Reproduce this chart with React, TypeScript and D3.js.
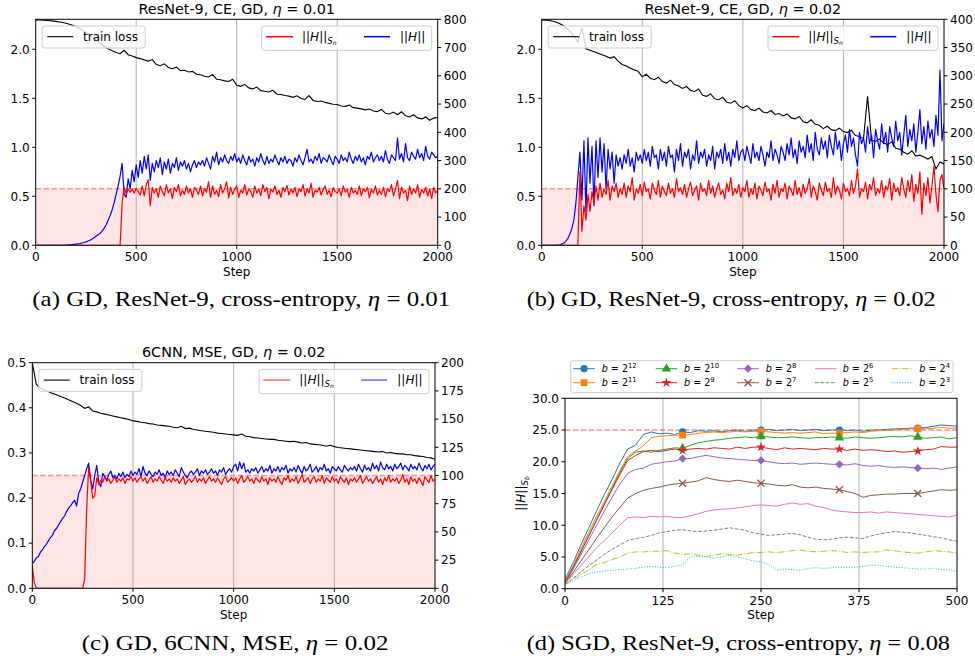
import React from "react";
import * as d3 from "d3";

const SANS = "'DejaVu Sans', sans-serif";
const SERIF = "'Liberation Serif', 'Times New Roman', serif";

// ---------------- DATA ----------------
const gdSteps = [0, 2000];
const gdXTicks = [0, 500, 1000, 1500, 2000];
const lossTicksAB = [0, 0.5, 1.0, 1.5, 2.0];
const hTicksA = [0, 100, 200, 300, 400, 500, 600, 700, 800];
const hTicksB = [0, 50, 100, 150, 200, 250, 300, 350, 400];
const lossTicksC = [0, 0.1, 0.2, 0.3, 0.4, 0.5];
const hTicksC = [0, 25, 50, 75, 100, 125, 150, 175, 200];

// Panel (a): ResNet-9, CE, GD, eta = 0.01 (loss every 20 steps, H every 10 steps)
const lossA = [
  2.300,2.299,2.297,2.294,2.290,2.285,2.279,2.271,2.261,2.248,
  2.232,2.212,2.188,2.160,2.128,2.095,2.062,2.032,2.005,1.985,
  1.968,1.955,1.990,1.945,1.932,1.915,1.905,1.892,1.880,1.895,
  1.845,1.832,1.852,1.815,1.802,1.818,1.782,1.786,1.768,1.775,
  1.745,1.740,1.725,1.718,1.742,1.695,1.690,1.678,1.672,1.695,
  1.632,1.622,1.642,1.606,1.596,1.614,1.578,1.572,1.565,1.582,
  1.542,1.538,1.528,1.522,1.510,1.525,1.498,1.488,1.528,1.478,
  1.468,1.472,1.458,1.448,1.440,1.436,1.422,1.418,1.430,1.405,
  1.400,1.392,1.382,1.390,1.370,1.364,1.386,1.348,1.340,1.360,
  1.332,1.362,1.322,1.310,1.332,1.300,1.290,1.310,1.276,1.298,
  1.305];
const hsnA = [
  0,0,0,0,0,0,0,0,0,0,
  0,0,0,0,0,0,0,0,0,0,
  0,0,0,0,0,0,0,0,0,0,
  0,0,0,0,0,0,0,0,0,0,
  0,0,0,
  150,205,180,200,188,198,185,202,190,178,
  210,175,215,232,140,205,185,200,170,210,
  190,175,215,185,200,165,205,190,215,175,
  195,180,210,185,200,170,205,195,180,210,
  175,200,188,225,170,210,180,195,172,215,
  185,200,225,168,205,180,200,210,170,195,
  185,215,178,200,190,170,210,185,198,175,
  215,190,205,165,200,188,210,180,195,170,
  205,190,212,178,198,185,205,172,200,190,
  215,175,200,185,220,170,195,188,205,178,
  198,210,180,195,172,205,190,185,200,175,
  210,188,198,170,205,185,195,180,210,175,
  200,190,205,168,198,185,210,178,195,180,
  205,172,200,190,215,175,198,230,165,205,
  185,195,158,210,180,200,185,215,170,198,
  185,205,175,200,165,205,185,195];
const hA = [
  0,0,0,0,0,0,0,0,0,0,
  0,0,0,0,0,0.5,1,1.5,2,3,
  4,5,6,8,10,12,15,18,22,27,
  32,37,42,50,60,72,88,105,125,150,
  180,210,245,290,180,170,235,200,265,225,
  285,240,300,255,315,270,320,230,290,260,
  300,275,310,250,295,270,305,255,290,275,
  310,265,295,280,300,270,290,260,285,300,
  275,295,285,300,280,310,290,270,315,295,
  330,285,310,295,320,300,290,315,300,325,
  295,310,290,320,300,285,315,295,305,280,
  310,295,325,300,285,315,290,305,295,320,
  300,285,310,295,315,290,305,300,280,310,
  295,320,300,285,310,340,295,305,290,315,
  300,325,290,310,305,295,320,300,285,315,
  305,290,320,300,310,295,330,305,290,315,
  300,320,295,310,285,315,305,330,295,310,
  320,300,315,295,335,305,290,320,310,300,
  380,305,325,295,360,310,300,330,315,305,
  340,310,325,300,350,315,305,330,320,310,
  315];

// Panel (b): ResNet-9, CE, GD, eta = 0.02
const lossB = [
  2.300,2.298,2.293,2.284,2.270,2.250,2.222,2.185,2.135,2.075,
  2.220,2.005,1.990,1.975,1.960,1.945,1.930,1.910,1.925,1.880,
  1.845,1.830,1.810,1.790,1.775,1.720,1.745,1.705,1.690,1.715,
  1.670,1.655,1.685,1.640,1.625,1.600,1.620,1.580,1.570,1.595,
  1.530,1.520,1.545,1.495,1.485,1.510,1.460,1.450,1.475,1.425,
  1.400,1.425,1.385,1.375,1.400,1.360,1.350,1.375,1.335,1.345,
  1.320,1.340,1.300,1.290,1.315,1.260,1.250,1.280,1.235,1.225,
  1.190,1.215,1.180,1.170,1.195,1.160,1.150,1.175,1.120,1.110,
  1.090,1.520,1.070,1.060,1.085,1.040,1.030,1.055,0.990,0.980,
  0.950,0.930,0.965,0.910,0.920,0.900,0.880,0.905,0.780,0.850,
  0.830];
const hsnB = [
  0,0,0,0,0,0,0,0,0,0,
  0,0,0,0,0,0,0,0,0,130,
  25,70,45,90,60,95,75,105,80,110,
  85,100,90,115,80,105,95,110,85,100,
  90,110,85,105,95,120,80,100,92,108,
  88,112,95,100,82,110,98,90,115,85,
  105,95,88,110,92,100,85,118,95,102,
  90,108,85,100,112,88,98,105,80,110,
  95,100,88,115,92,105,85,100,110,90,
  98,82,110,95,120,88,100,92,108,85,
  102,95,115,85,100,90,110,82,105,98,
  88,112,95,100,80,108,92,115,85,100,
  95,110,82,105,98,88,115,90,102,85,
  108,92,100,118,85,105,95,80,110,98,
  88,112,95,100,85,120,90,105,98,82,
  110,95,100,88,115,92,105,135,85,100,
  95,112,82,108,98,120,88,100,92,115,
  85,105,98,118,80,110,95,102,88,120,
  100,85,115,95,125,78,108,92,130,55,
  110,88,120,75,105,140,90,60,115,125,
  100];
const hB = [
  0,0,0,0,0,0,0,0,0.5,1,
  2,4,7,12,20,30,45,75,120,165,
  80,185,60,190,110,175,70,185,120,190,
  130,180,100,170,135,165,110,160,140,155,
  135,160,145,170,140,155,130,165,150,160,
  145,170,150,165,140,175,155,160,135,170,
  150,165,140,175,155,160,130,170,150,180,
  140,165,155,170,135,160,150,185,145,165,
  155,170,140,160,150,175,135,165,155,170,
  145,180,150,165,140,170,155,185,150,165,
  170,150,175,160,145,180,155,165,150,175,
  160,140,165,155,185,150,170,160,145,175,
  165,150,180,160,190,155,170,145,185,165,
  175,155,195,165,180,150,200,170,160,190,
  170,185,155,195,175,160,200,170,185,150,
  180,195,165,205,175,190,160,140,200,180,
  190,165,210,180,195,155,205,185,170,215,
  180,200,165,210,190,175,220,185,200,160,
  195,230,175,205,185,215,165,200,240,180,
  210,170,220,190,205,175,230,195,310,185,
  215];

// Panel (c): 6CNN, MSE, GD, eta = 0.02
const lossC = [
  0.500,0.452,0.444,0.440,0.436,0.432,0.429,0.425,0.422,0.418,
  0.414,0.410,0.405,0.399,0.402,0.393,0.391,0.388,0.386,0.384,
  0.382,0.380,0.378,0.376,0.374,0.371,0.370,0.368,0.367,0.365,
  0.364,0.362,0.361,0.360,0.359,0.357,0.356,0.359,0.354,0.355,
  0.352,0.351,0.349,0.348,0.347,0.346,0.344,0.343,0.342,0.341,
  0.340,0.339,0.342,0.337,0.336,0.334,0.333,0.332,0.331,0.330,
  0.330,0.328,0.327,0.326,0.325,0.326,0.324,0.322,0.323,0.320,
  0.319,0.318,0.317,0.315,0.317,0.314,0.312,0.311,0.310,0.309,
  0.308,0.307,0.306,0.305,0.304,0.303,0.302,0.303,0.300,0.301,
  0.299,0.298,0.298,0.296,0.296,0.294,0.293,0.292,0.290,0.289,
  0.286];
const hsnC = [
  20,5,0,0,0,0,0,0,0,0,
  0,0,0,0,0,0,0,0,0,0,
  0,0,0,0,0,0,8,70,108,95,
  80,82,98,92,96,94,99,95,97,93,
  96,99,94,97,95,98,93,97,96,99,
  95,98,94,97,99,95,98,93,96,99,
  94,97,95,99,96,93,98,95,97,94,
  98,95,97,93,96,99,92,95,97,94,
  96,99,94,97,95,98,93,96,99,95,
  97,94,98,95,92,97,99,94,96,98,
  95,98,93,97,100,94,96,99,95,97,
  93,98,96,94,99,95,97,92,98,95,
  97,94,99,95,92,98,96,100,94,97,
  95,99,93,97,101,94,96,98,93,97,
  99,94,97,95,100,93,98,96,94,99,
  95,97,93,99,96,94,98,92,97,95,
  98,94,97,100,93,96,99,95,97,93,
  96,99,94,97,92,98,95,100,94,97,
  95,98,93,96,101,94,97,92,99,95,
  97,93,98,95,91,99,96,94,100,95,
  97];
const hC = [
  22,24,27,28,32,34,37,39,42,45,
  47,51,53,56,59,62,64,68,71,73,
  76,78,73,84,88,94,100,106,111,96,
  88,100,109,94,90,102,99,96,101,104,
  98,100,97,102,99,103,98,101,99,104,
  100,103,101,106,99,108,102,100,104,101,
  99,103,101,105,100,102,98,104,101,103,
  100,105,102,99,107,103,100,98,102,104,
  101,103,106,100,104,102,105,101,103,106,
  102,104,100,105,103,107,101,104,106,103,
  108,110,104,112,106,111,103,105,102,106,
  104,107,102,105,108,103,106,104,109,102,
  106,104,108,103,107,105,109,102,106,104,
  107,103,109,105,102,108,104,106,110,103,
  105,108,103,107,105,110,104,106,102,108,
  106,104,108,105,103,109,106,104,107,105,
  108,104,110,106,103,109,105,107,104,111,
  106,109,104,112,107,105,110,106,108,104,
  110,106,108,111,105,109,107,104,110,106,
  108,105,111,107,104,109,106,110,105,108,
  110];

// Panel (d): SGD, ResNet-9, CE, eta = 0.08 (every 10 steps, 0..500)
const sgdSteps = [0, 500];
const sgdXTicks = [0, 125, 250, 375, 500];
const sgdYTicks = [0, 5, 10, 15, 20, 25, 30];
const batchExps = [12, 11, 10, 9, 8, 7, 6, 5, 4, 3];
const sgdMarkSteps = [150, 250, 350, 450];
const sgdThreshold = 25;
const sgdB12 = [1.5,4,6.8,9.5,12.2,14.8,17.2,19.8,22.0,22.6,24.3,24.7,24.4,24.5,24.3,24.7,24.6,24.9,24.8,24.9,24.7,24.9,25.0,24.8,25.0,25.0,25.1,24.9,25.0,25.1,24.9,25.0,25.1,24.9,25.0,25.0,24.9,25.0,24.8,25.0,25.0,25.1,25.2,25.2,25.3,25.3,25.4,25.6,25.8,25.7,25.6];
const sgdB11 = [1.2,3.5,6.2,8.8,11.3,13.7,16.2,18.6,20.8,21.7,22.5,23.8,24.0,24.1,24.2,24.2,24.3,24.5,24.6,24.7,24.6,24.7,24.8,24.7,24.8,24.8,24.7,24.6,24.5,24.6,24.5,24.6,24.7,24.4,24.5,24.5,24.6,24.7,24.6,24.8,24.9,24.9,25.0,25.1,25.2,25.2,25.2,25.3,25.4,25.3,25.3];
const sgdB10 = [1.0,3.3,5.8,8.3,10.8,13.3,15.8,18.3,20.5,21.5,21.7,21.5,21.8,22.0,22.2,22.1,22.6,23.0,23.2,23.4,23.5,23.7,23.8,23.9,23.8,24.0,23.9,23.8,23.8,23.9,23.8,23.7,23.8,23.8,23.9,23.8,23.7,23.9,23.8,23.7,23.8,23.9,24.0,23.9,24.1,23.9,23.7,23.8,23.9,23.6,23.8];
const sgdB9 = [0.9,3.2,5.7,8.2,10.7,13.2,15.6,18.0,20.2,21.0,21.6,21.8,21.6,21.8,22.0,21.8,22.0,22.1,22.0,22.2,22.1,22.0,22.3,22.1,22.3,22.3,22.1,21.9,22.2,22.0,22.1,22.0,21.9,22.1,22.0,22.0,21.8,22.0,21.8,21.9,21.8,21.6,21.7,21.5,21.6,21.7,21.9,22.0,22.4,22.3,22.3];
const sgdB8 = [0.8,3.0,5.3,7.6,9.9,12.2,14.4,16.5,18.2,18.8,19.0,19.6,19.8,20.0,20.1,20.5,20.5,20.8,21.0,20.8,20.6,20.5,20.4,20.3,20.2,20.2,20.0,19.8,19.7,19.8,19.6,19.7,19.8,19.7,19.6,19.6,19.5,19.7,19.4,19.3,19.4,19.2,19.1,19.2,19.1,19.0,18.9,19.0,18.8,19.0,19.2];
const sgdB7 = [0.8,2.5,4.3,6.1,7.9,9.6,11.3,12.8,14.3,15.0,15.5,15.8,16.0,16.3,16.5,16.6,16.8,17.0,17.5,17.2,17.0,16.9,17.1,16.9,16.7,16.6,16.5,16.3,16.2,16.4,16.0,15.9,16.0,15.8,15.7,15.6,15.3,15.0,14.4,14.7,14.8,14.9,14.9,15.0,15.0,15.0,15.2,15.4,15.6,15.5,15.6];
const sgdB6 = [0.8,2.2,3.6,5.0,6.4,7.6,8.8,10.0,11.2,11.3,11.2,11.4,11.3,11.4,11.2,11.2,11.5,11.8,12.2,12.4,12.5,12.6,12.7,12.9,13.1,13.2,13.1,13.0,13.3,13.5,13.3,13.4,13.0,12.8,12.4,12.2,12.1,12.0,12.0,12.1,11.9,12.1,12.0,11.9,11.8,11.7,11.6,11.5,11.4,11.3,11.6];
const sgdB5 = [0.7,1.6,2.6,3.6,4.5,5.4,6.2,6.9,7.6,7.9,8.1,8.4,8.8,9.0,9.2,9.3,9.1,9.0,9.1,9.2,9.4,9.6,9.4,9.2,8.8,8.6,8.4,8.5,8.6,8.7,8.5,8.1,7.8,7.7,7.8,8.0,8.1,8.0,7.9,8.3,8.6,8.8,9.0,8.9,8.8,8.6,8.4,8.2,8.0,7.7,7.5];
const sgdB4 = [0.7,1.4,2.2,3.0,3.8,4.1,4.6,5.0,5.6,5.8,5.8,5.9,5.9,6.0,5.6,5.4,5.5,5.3,5.1,5.3,5.5,5.4,5.3,5.5,5.7,5.7,5.8,5.7,5.8,6.0,6.1,5.9,5.8,5.9,6.0,5.9,5.7,5.8,5.7,5.8,5.8,6.1,6.0,5.8,5.7,5.6,5.8,6.0,5.9,5.8,5.6];
const sgdB3 = [0.6,1.2,1.8,2.3,2.6,2.8,2.9,3.0,3.1,3.2,3.4,3.5,3.4,3.3,3.5,3.8,5.0,5.1,5.0,4.8,5.0,5.3,5.0,4.7,4.4,4.2,3.8,2.9,3.1,3.0,2.9,3.2,3.3,3.2,3.3,3.4,3.3,3.4,3.5,3.7,3.7,3.5,3.4,3.3,3.2,3.1,3.1,3.2,3.0,3.0,2.7];
const sgdSeries = [sgdB12, sgdB11, sgdB10, sgdB9, sgdB8, sgdB7, sgdB6, sgdB5, sgdB4, sgdB3];

// ---------------- STYLES ----------------
const tab10 = ["#1f77b4", "#ff7f0e", "#2ca02c", "#d62728", "#9467bd", "#8c564b", "#e377c2", "#7f7f7f", "#bcbd22", "#17becf"];
const sgdDash = ["", "", "", "", "", "", "", "3.7,1.6", "6.4,1.6,1,1.6", "1,1.65"];
const sgdMarker = ["circle", "square", "triangle", "star", "diamond", "x", "", "", "", ""];

const fmt1 = d3.format(".1f");

function Marker({ kind, x, y, color }: { kind: string; x: number; y: number; color: string }) {
  if (!kind) return null;
  if (kind === "circle") return <circle cx={x} cy={y} r={3.6} fill={color} />;
  if (kind === "square") return <path d={d3.symbol(d3.symbolSquare, 46)() as string} transform={`translate(${x},${y})`} fill={color} />;
  if (kind === "triangle") return <path d={d3.symbol(d3.symbolTriangle, 40)() as string} transform={`translate(${x},${y})`} fill={color} />;
  if (kind === "star") return <path d={d3.symbol(d3.symbolStar, 30)() as string} transform={`translate(${x},${y})`} fill={color} />;
  if (kind === "diamond") return <path d={d3.symbol(d3.symbolSquare, 34)() as string} transform={`translate(${x},${y}) rotate(45)`} fill={color} />;
  if (kind === "x") return <path d={d3.symbol(d3.symbolTimes, 34)() as string} transform={`translate(${x},${y})`} fill="none" stroke={color} strokeWidth={1.3} />;
  return null;
}

function HNormText({ x, y, sub, size = 12, anchor = "start", transform }: any) {
  return (
    <text x={x} y={y} fontSize={size} fontFamily={SANS} textAnchor={anchor} transform={transform}>
      {"||"}
      <tspan fontStyle="italic">H</tspan>
      {"||"}
      {sub ? (
        <>
          <tspan fontStyle="italic" fontSize={size * 0.72} dy={size * 0.22}>S</tspan>
          <tspan fontStyle="italic" fontSize={size * 0.5} dy={size * 0.12}>{sub}</tspan>
        </>
      ) : null}
    </text>
  );
}

type GDProps = {
  id: string;
  left: number; right: number; top: number; bottom: number;
  title: string; eta: string;
  lossMax: number; lossTicks: number[];
  hMax: number; hTicks: number[];
  loss: number[]; hsn: number[]; h: number[];
  threshold: number; lightLegend?: boolean;
};

function GDPanel(p: GDProps) {
  const x = d3.scaleLinear().domain(gdSteps).range([p.left, p.right]);
  const yL = d3.scaleLinear().domain([0, p.lossMax]).range([p.bottom, p.top]);
  const yR = d3.scaleLinear().domain([0, p.hMax]).range([p.bottom, p.top]);
  const path = (arr: number[], y: d3.ScaleLinear<number, number>) =>
    d3.line<number>()
      .x((_, i) => x(gdSteps[0] + (i * (gdSteps[1] - gdSteps[0])) / (arr.length - 1)))
      .y((d) => y(d))(arr) as string;
  const cx = (p.left + p.right) / 2;
  const legRed = p.lightLegend ? "#ff6a6a" : "#ff0000";
  const legBlue = p.lightLegend ? "#6a6aff" : "#0000ff";
  const ly = p.top + 17.4;
  return (
    <g>
      <defs>
        <clipPath id={`clip-${p.id}`}>
          <rect x={p.left} y={p.top} width={p.right - p.left} height={p.bottom - p.top} />
        </clipPath>
      </defs>
      <g clipPath={`url(#clip-${p.id})`}>
        <rect x={x(gdSteps[0])} y={yR(p.threshold)} width={x(gdSteps[1]) - x(gdSteps[0])} height={yR(0) - yR(p.threshold)} fill="#ff0000" fillOpacity={0.1} />
        <line x1={x(gdSteps[0])} x2={x(gdSteps[1])} y1={yR(p.threshold)} y2={yR(p.threshold)} stroke="#ff0000" strokeOpacity={0.4} strokeWidth={1.4} strokeDasharray="5.5,2.4" />
        {gdXTicks.slice(1, -1).map((t) => (
          <line key={t} x1={x(t)} x2={x(t)} y1={p.top} y2={p.bottom} stroke="#b0b0b0" strokeWidth={1} />
        ))}
        <path d={path(p.loss, yL)} fill="none" stroke="#000" strokeWidth={1.1} />
        <path d={path(p.h, yR)} fill="none" stroke="#0000ff" strokeWidth={1.2} strokeLinejoin="round" />
        <path d={path(p.hsn, yR)} fill="none" stroke="#ff0000" strokeWidth={1.2} strokeLinejoin="round" />
      </g>
      <rect x={p.left} y={p.top} width={p.right - p.left} height={p.bottom - p.top} fill="none" stroke="#000" strokeWidth={1} />
      {/* x axis */}
      {gdXTicks.map((t) => (
        <g key={t}>
          <line x1={x(t)} x2={x(t)} y1={p.bottom} y2={p.bottom + 3.5} stroke="#000" />
          <text x={x(t)} y={p.bottom + 16} fontSize={12} fontFamily={SANS} textAnchor="middle">{t}</text>
        </g>
      ))}
      <text x={cx} y={p.bottom + 31} fontSize={12} fontFamily={SANS} textAnchor="middle">Step</text>
      {/* left axis */}
      {p.lossTicks.map((t) => (
        <g key={t}>
          <line x1={p.left - 3.5} x2={p.left} y1={yL(t)} y2={yL(t)} stroke="#000" />
          <text x={p.left - 6} y={yL(t) + 4.3} fontSize={12} fontFamily={SANS} textAnchor="end">{fmt1(t)}</text>
        </g>
      ))}
      {/* right axis */}
      {p.hTicks.map((t) => (
        <g key={t}>
          <line x1={p.right} x2={p.right + 3.5} y1={yR(t)} y2={yR(t)} stroke="#000" />
          <text x={p.right + 6} y={yR(t) + 4.3} fontSize={12} fontFamily={SANS} textAnchor="start">{t}</text>
        </g>
      ))}
      {/* title */}
      <text x={cx} y={p.top - 5.4} fontSize={14.4} fontFamily={SANS} textAnchor="middle">
        {p.title}
        <tspan fontStyle="italic">η</tspan>
        {" = " + p.eta}
      </text>
      {/* left legend */}
      <rect x={p.left + 6.5} y={p.top + 6.7} width={103} height={22} rx={2.5} fill="#fff" fillOpacity={0.8} stroke="#cccccc" />
      <line x1={p.left + 11.5} x2={p.left + 37.5} y1={ly} y2={ly} stroke="#000" strokeWidth={1.1} />
      <text x={p.left + 47.3} y={ly + 4.3} fontSize={12} fontFamily={SANS}>train loss</text>
      {/* right legend */}
      <rect x={p.right - 176} y={p.top + 6.7} width={170} height={24.3} rx={2.5} fill="#fff" fillOpacity={0.8} stroke="#cccccc" />
      <line x1={p.right - 171.7} x2={p.right - 144.7} y1={ly} y2={ly} stroke={legRed} strokeWidth={1.5} />
      <HNormText x={p.right - 135.7} y={ly + 4.3} sub="n" />
      <line x1={p.right - 73.7} x2={p.right - 47.7} y1={ly} y2={ly} stroke={legBlue} strokeWidth={1.5} />
      <HNormText x={p.right - 37.7} y={ly + 4.3} />
    </g>
  );
}

function SGDPanel() {
  const left = 565, right = 957, top = 398.3, bottom = 588.7;
  const x = d3.scaleLinear().domain(sgdSteps).range([left, right]);
  const y = d3.scaleLinear().domain([0, 30]).range([bottom, top]);
  const stepOf = (i: number, n: number) => sgdSteps[0] + (i * (sgdSteps[1] - sgdSteps[0])) / (n - 1);
  const line = (arr: number[]) => d3.line<number>().x((_, i) => x(stepOf(i, arr.length))).y((d) => y(d))(arr) as string;
  const colLineX = [573.3, 655.7, 737.3, 815, 891.7];
  const colTextX = [601.7, 684, 765.7, 842.7, 919.3];
  const rowY = [368.7, 382.7];
  return (
    <g>
      <defs>
        <clipPath id="clip-d">
          <rect x={left} y={top} width={right - left} height={bottom - top} />
        </clipPath>
      </defs>
      <g clipPath="url(#clip-d)">
        {sgdXTicks.slice(1, -1).map((t) => (
          <line key={t} x1={x(t)} x2={x(t)} y1={top} y2={bottom} stroke="#b0b0b0" strokeWidth={1} />
        ))}
        <line x1={left} x2={right} y1={y(sgdThreshold)} y2={y(sgdThreshold)} stroke="#ff0000" strokeOpacity={0.45} strokeWidth={1.4} strokeDasharray="5.5,2.4" />
        {sgdSeries.map((s, k) => (
          <path key={k} d={line(s)} fill="none" stroke={tab10[k]} strokeWidth={1} strokeDasharray={sgdDash[k] || undefined} />
        ))}
        {sgdSeries.map((s, k) =>
          sgdMarkSteps.map((st) => {
            const i = Math.round(((st - sgdSteps[0]) / (sgdSteps[1] - sgdSteps[0])) * (s.length - 1));
            return <Marker key={`${k}-${st}`} kind={sgdMarker[k]} x={x(st)} y={y(s[i])} color={tab10[k]} />;
          })
        )}
      </g>
      <rect x={left} y={top} width={right - left} height={bottom - top} fill="none" stroke="#000" strokeWidth={1} />
      {sgdXTicks.map((t) => (
        <g key={t}>
          <line x1={x(t)} x2={x(t)} y1={bottom} y2={bottom + 3.5} stroke="#000" />
          <text x={x(t)} y={bottom + 16} fontSize={12} fontFamily={SANS} textAnchor="middle">{t}</text>
        </g>
      ))}
      <text x={(left + right) / 2} y={bottom + 30.5} fontSize={12} fontFamily={SANS} textAnchor="middle">Step</text>
      {sgdYTicks.map((t) => (
        <g key={t}>
          <line x1={left - 3.5} x2={left} y1={y(t)} y2={y(t)} stroke="#000" />
          <text x={left - 6} y={y(t) + 4.3} fontSize={12} fontFamily={SANS} textAnchor="end">{fmt1(t)}</text>
        </g>
      ))}
      <HNormText x={0} y={0} sub="b" anchor="middle" transform={`translate(525,${(top + bottom) / 2}) rotate(-90)`} />
      {/* legend */}
      <rect x={570.7} y={360.7} width={382.3} height={32} rx={2.5} fill="#fff" fillOpacity={0.8} stroke="#cccccc" />
      {batchExps.map((e, k) => {
        const col = Math.floor(k / 2), row = k % 2;
        const ly = rowY[row];
        const lx = colLineX[col];
        return (
          <g key={e}>
            <line x1={lx} x2={lx + 21.5} y1={ly} y2={ly} stroke={tab10[k]} strokeWidth={1} strokeDasharray={sgdDash[k] || undefined} />
            <Marker kind={sgdMarker[k]} x={lx + 10.75} y={ly} color={tab10[k]} />
            <text x={colTextX[col]} y={ly + 3.4} fontSize={9.6} fontFamily={SANS}>
              <tspan fontStyle="italic">b</tspan>
              {" = 2"}
              <tspan fontSize={6.8} dy={-4}>{e}</tspan>
            </text>
          </g>
        );
      })}
    </g>
  );
}

function Caption({ x, y, width, label, eta }: { x: number; y: number; width: number; label: string; eta: string }) {
  return (
    <text x={x} y={y} fontSize={21} fontFamily={SERIF} textLength={width} lengthAdjust="spacingAndGlyphs">
      {label}
      <tspan fontStyle="italic">η</tspan>
      {" = " + eta}
    </text>
  );
}

export default function App() {
  return (
    <svg width={975} height={662} viewBox="0 0 975 662" style={{ position: "absolute", left: 0, top: 0, background: "#fff" }}>
      <rect x={0} y={0} width={975} height={662} fill="#fff" />
      <GDPanel id="a" left={35.7} right={437.7} top={19.3} bottom={245.3}
        title="ResNet-9, CE, GD, " eta="0.01" lossMax={2.306} lossTicks={lossTicksAB}
        hMax={800} hTicks={hTicksA} loss={lossA} hsn={hsnA} h={hA} threshold={200} />
      <GDPanel id="b" left={541.7} right={944} top={19.3} bottom={245.3}
        title="ResNet-9, CE, GD, " eta="0.02" lossMax={2.306} lossTicks={lossTicksAB}
        hMax={400} hTicks={hTicksB} loss={lossB} hsn={hsnB} h={hB} threshold={100} />
      <GDPanel id="c" left={32.3} right={435} top={362.7} bottom={588.3}
        title="6CNN, MSE, GD, " eta="0.02" lossMax={0.5} lossTicks={lossTicksC}
        hMax={200} hTicks={hTicksC} loss={lossC} hsn={hsnC} h={hC} threshold={100} lightLegend />
      <SGDPanel />
      <Caption x={32.3} y={306} width={418} label="(a) GD, ResNet-9, cross-entropy, " eta="0.01" />
      <Caption x={526.7} y={306} width={409} label="(b) GD, ResNet-9, cross-entropy, " eta="0.02" />
      <Caption x={81.7} y={650} width={306.7} label="(c) GD, 6CNN, MSE, " eta="0.02" />
      <Caption x={526.7} y={650} width={423.3} label="(d) SGD, ResNet-9, cross-entropy, " eta="0.08" />
    </svg>
  );
}
